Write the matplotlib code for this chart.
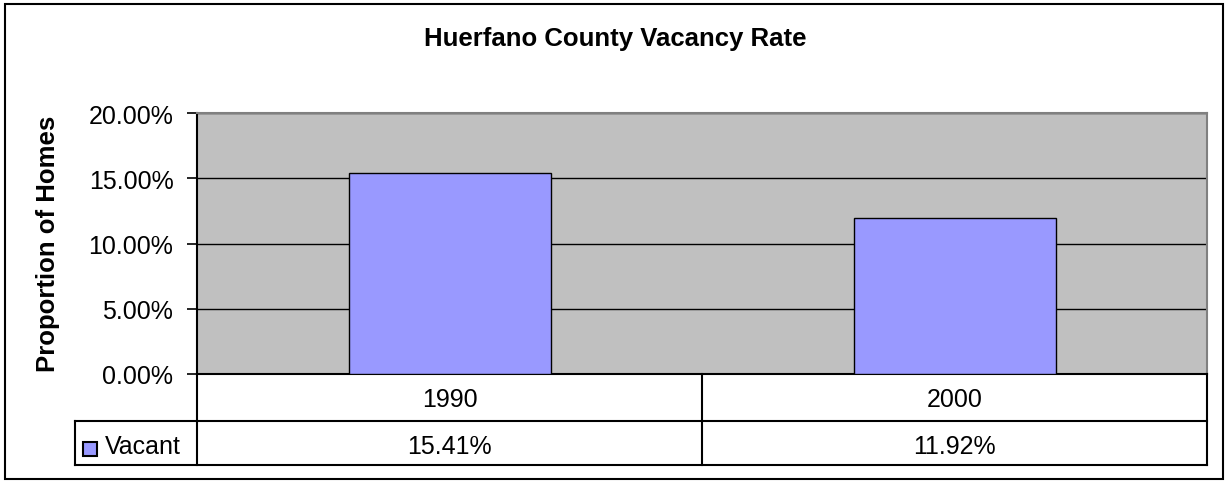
import matplotlib
matplotlib.use("Agg")
import matplotlib.pyplot as plt
from matplotlib.patches import Rectangle
from matplotlib.ticker import PercentFormatter

years = ["1990", "2000"]
vacant = [15.41, 11.92]
series_name = "Vacant"
title = "Huerfano County Vacancy Rate"
ylabel = "Proportion of Homes"
yticks = [0, 5, 10, 15, 20]

W, H = 1225, 485
plt.rcParams['font.family'] = ['Liberation Sans', 'DejaVu Sans']
FS = 18

fig = plt.figure(figsize=(W / 100, H / 100), dpi=100)

# plot area in pixels: x 197..1207, y 114..375
ax = fig.add_axes([197 / W, (H - 375) / H, 1010 / W, 261 / H])
ax.set_facecolor('#C0C0C0')
x = list(range(len(years)))
ax.bar(x, vacant, width=0.4, color='#9999FF', edgecolor='black', linewidth=1, zorder=3)
ax.set_xlim(-0.5, len(years) - 0.5)
ax.set_ylim(0, 20)
ax.set_yticks(yticks)
ax.yaxis.set_major_formatter(PercentFormatter(decimals=2))
ax.set_xticks([])
ax.grid(axis='y', color='black', linewidth=1, zorder=1)
ax.tick_params(axis='y', labelsize=FS, length=7, width=1.2, pad=10)
for s in ['top', 'right']:
    ax.spines[s].set_color('#808080')
    ax.spines[s].set_linewidth(1.5)
for s in ['left', 'bottom']:
    ax.spines[s].set_linewidth(1.5)
ax.set_ylabel(ylabel, fontsize=18.5, fontweight='bold')
ax.yaxis.set_label_coords(48 / W, 1 - 0.5 * (115 + 372) / H, transform=fig.transFigure)
ax.yaxis.label.set_verticalalignment('center')

fig.text(615 / W, 1 - 39 / H, title, fontsize=18.5, fontweight='bold',
         ha='center', va='center')

# data table below the plot, y in pixels (375..466)
tab = fig.add_axes([197 / W, (H - 466) / H, 1010 / W, 91 / H])
tab.set_xlim(-0.5, len(years) - 0.5)
tab.set_ylim(466, 375)
tab.axis('off')
leg_w = 122 / 505
x0 = -0.5 - leg_w
lk = dict(color='black', linewidth=1.5, clip_on=False)
tab.plot([x0, len(years) - 0.5], [422, 422], **lk)
tab.plot([x0, len(years) - 0.5], [466, 466], **lk)
tab.plot([x0, x0], [422, 466], **lk)
for i in range(len(years) + 1):
    tab.plot([i - 0.5, i - 0.5], [375, 466], **lk)
for i, (yr, v) in enumerate(zip(years, vacant)):
    tab.text(i, 400, yr, fontsize=FS, ha='center', va='center')
    tab.text(i, 447, f"{v:.2f}%", fontsize=FS, ha='center', va='center')
tab.add_patch(Rectangle((x0 + 8 / 505, 443), 14 / 505, 14,
                        facecolor='#9999FF', edgecolor='black', linewidth=1.5, clip_on=False))
tab.text(x0 + 30 / 505, 447, series_name, fontsize=FS, ha='left', va='center')

# outer chart border
fig.add_artist(Rectangle((5 / W, 5 / H), 1218 / W, 475 / H, transform=fig.transFigure,
                         fill=False, edgecolor='black', linewidth=1.5))

fig.savefig("out.png", dpi=100)
